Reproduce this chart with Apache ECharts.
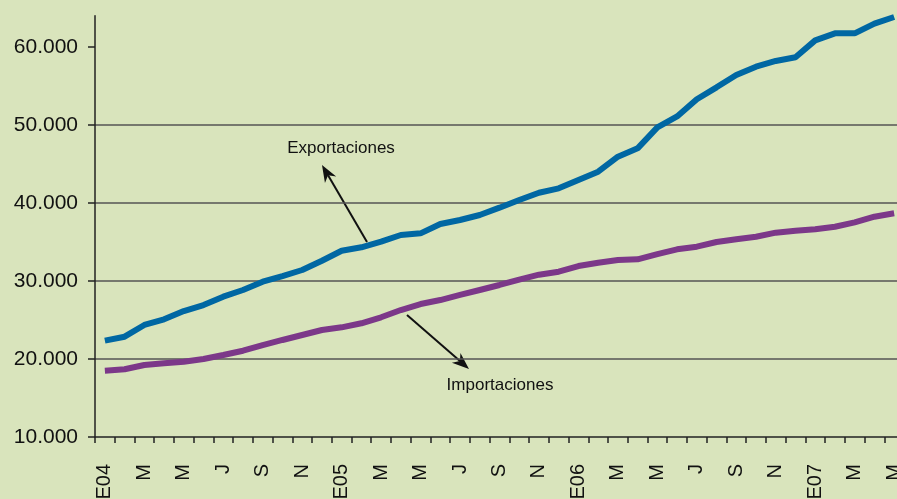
<!DOCTYPE html>
<html>
<head>
<meta charset="utf-8">
<script src="https://cdn.jsdelivr.net/npm/echarts@6/dist/echarts.min.js"></script>
<style>
  html, body { margin: 0; padding: 0; background: #d9e4bc; }
  #chart { width: 897px; height: 499px; }
</style>
</head>
<body>
<div id="chart"></div>
<script>
// meses (E = enero), ene-2004 .. may-2007
var meses = ['E04','F','M','A','M','J','J','A','S','O','N','D',
             'E05','F','M','A','M','J','J','A','S','O','N','D',
             'E06','F','M','A','M','J','J','A','S','O','N','D',
             'E07','F','M','A','M'];

var exportaciones = [22350, 22860, 24360, 25090, 26150, 26920, 27990, 28850, 29910, 30640,
                     31410, 32600, 33880, 34320, 35040, 35900, 36110, 37310, 37820, 38460,
                     39400, 40380, 41320, 41880, 42950, 44010, 45940, 47010, 49700, 51100,
                     53300, 54830, 56410, 57480, 58210, 58680, 60850, 61750, 61750, 63000,
                     63850];

var importaciones = [18500, 18680, 19230, 19450, 19650, 20000, 20510, 21060, 21790, 22440,
                     23080, 23720, 24060, 24580, 25350, 26280, 27050, 27560, 28210, 28850,
                     29490, 30180, 30810, 31190, 31920, 32350, 32690, 32780, 33450, 34060,
                     34400, 35000, 35350, 35680, 36200, 36430, 36630, 36960, 37520, 38240,
                     38680];

var yTicks = [10000, 20000, 30000, 40000, 50000, 60000];

var chart = echarts.init(document.getElementById('chart'));

// flecha: línea + punta
function flecha(x1, y1, x2, y2) {
    var dx = x2 - x1, dy = y2 - y1;
    var len = Math.sqrt(dx * dx + dy * dy);
    var ux = dx / len, uy = dy / len;
    var px = -uy, py = ux;
    var hl = 17, hw = 6.5, notch = 12;
    var bx = x2 - hl * ux, by = y2 - hl * uy;
    var nx = x2 - notch * ux, ny = y2 - notch * uy;
    return {
        type: 'group',
        children: [{
            type: 'line',
            shape: { x1: x1, y1: y1, x2: nx, y2: ny },
            style: { stroke: '#111', lineWidth: 2 }
        }, {
            type: 'polygon',
            shape: { points: [[x2, y2], [bx + hw * px, by + hw * py], [nx, ny], [bx - hw * px, by - hw * py]] },
            style: { fill: '#111' }
        }]
    };
}

var fmt = function (v) {
    return String(v).replace(/\B(?=(\d{3})+(?!\d))/g, '.');
};

var option = {
    backgroundColor: '#d9e4bc',
    animation: false,
    grid: { left: 95, right: -7, top: 15.8, bottom: 62, containLabel: false, outerBoundsMode: 'none' },
    xAxis: {
        type: 'category',
        data: meses,
        boundaryGap: true,
        axisLine: { lineStyle: { color: '#222', width: 1.5 } },
        axisTick: { show: true, interval: 0, length: 6, lineStyle: { color: '#222', width: 1.5 } },
        axisLabel: {
            interval: 1,
            rotate: 90,
            margin: 27,
            fontSize: 20,
            hideOverlap: false,
            fontFamily: 'Liberation Sans, Arial, sans-serif',
            color: '#111'
        },
        splitLine: { show: false }
    },
    yAxis: {
        type: 'value',
        min: 10000,
        max: 64000,
        interval: 10000,
        axisLine: { show: true, lineStyle: { color: '#222', width: 1.5 } },
        axisTick: { show: true, length: 7, customValues: yTicks, lineStyle: { color: '#222', width: 1.5 } },
        axisLabel: {
            customValues: yTicks,
            formatter: fmt,
            margin: 17,
            fontSize: 21,
            fontFamily: 'Liberation Sans, Arial, sans-serif',
            color: '#111'
        },
        splitLine: {
            show: true,
            showMinLine: false,
            showMaxLine: false,
            lineStyle: { color: '#555', width: 1.5 }
        }
    },
    series: [{
        name: 'Exportaciones',
        type: 'line',
        data: exportaciones,
        showSymbol: false,
        lineStyle: { color: '#0067a3', width: 6 },
        z: 3
    }, {
        name: 'Importaciones',
        type: 'line',
        data: importaciones,
        showSymbol: false,
        lineStyle: { color: '#7c3889', width: 6 },
        z: 3
    }],
    graphic: [
        {
            type: 'text',
            x: 341, y: 148,
            style: {
                text: 'Exportaciones',
                font: '17px "Liberation Sans", Arial, sans-serif',
                fill: '#111',
                textAlign: 'center',
                textVerticalAlign: 'middle'
            }
        },
        {
            type: 'text',
            x: 500, y: 385,
            style: {
                text: 'Importaciones',
                font: '17px "Liberation Sans", Arial, sans-serif',
                fill: '#111',
                textAlign: 'center',
                textVerticalAlign: 'middle'
            }
        },
        flecha(367, 242, 322, 165),
        flecha(407, 315, 469, 369)
    ]
};

chart.setOption(option);
</script>
</body>
</html>
